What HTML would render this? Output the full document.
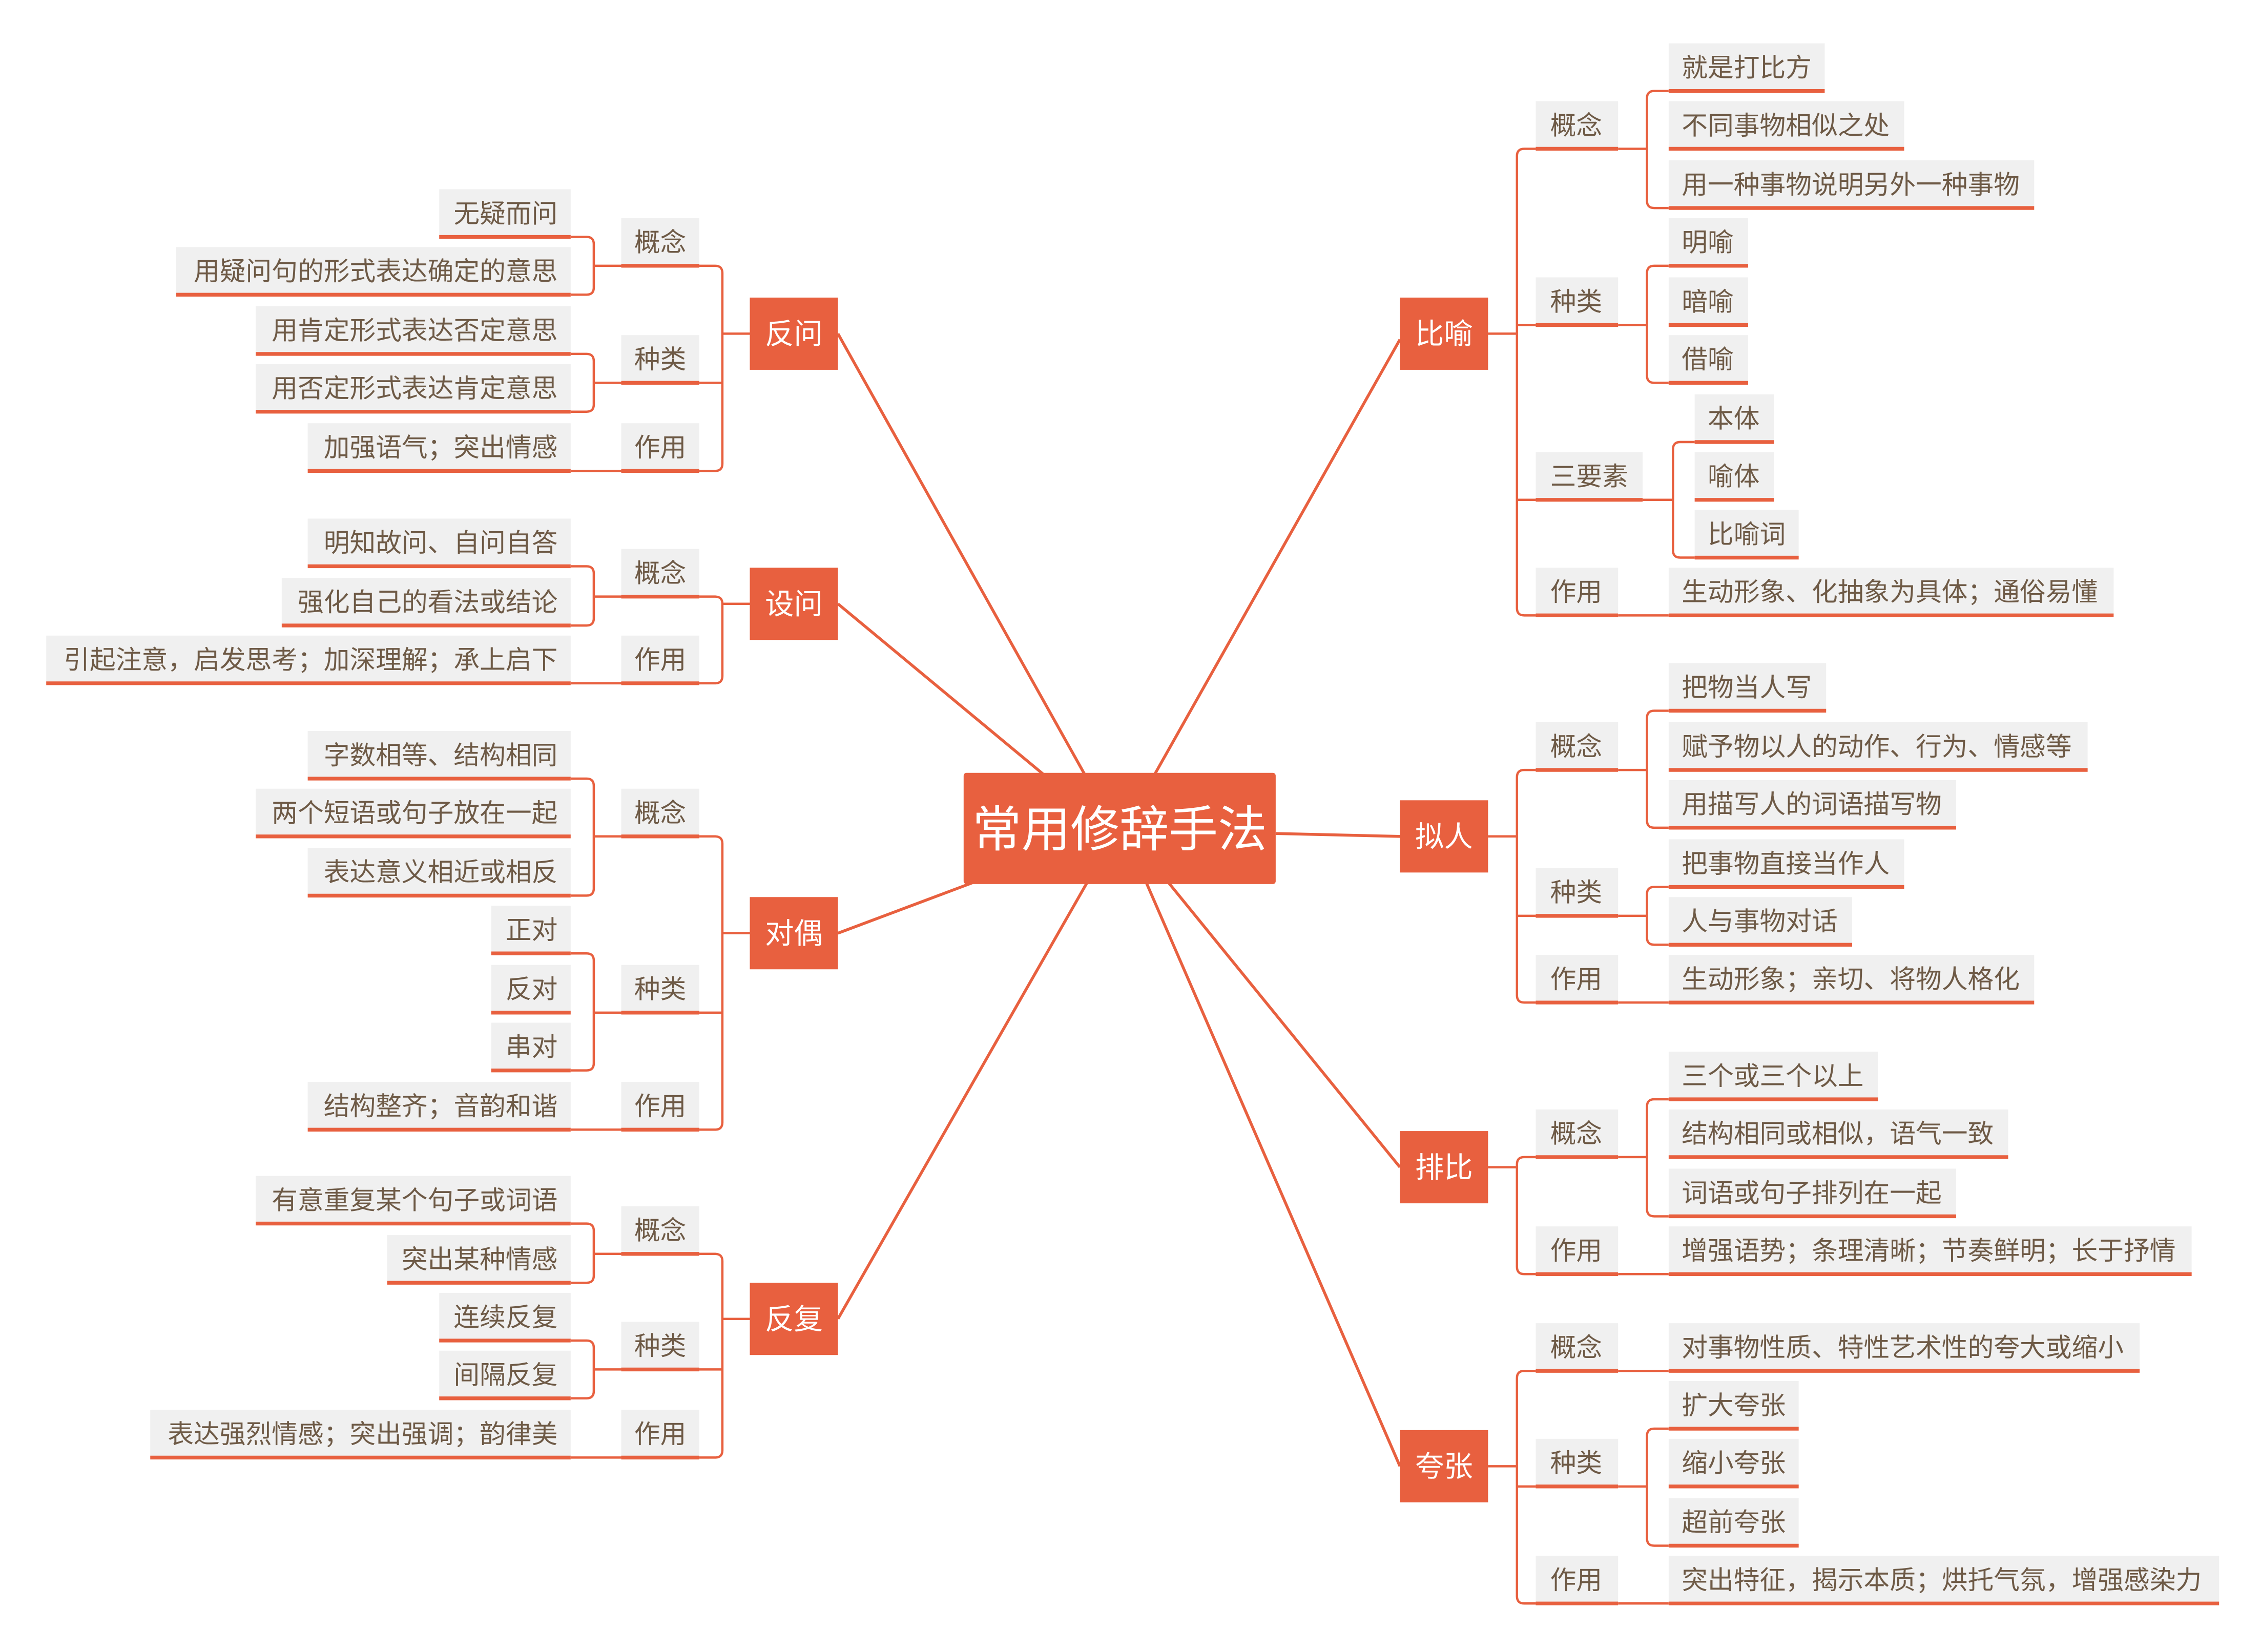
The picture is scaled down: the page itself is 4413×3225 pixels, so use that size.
<!DOCTYPE html>
<html><head><meta charset="utf-8"><style>
html,body{margin:0;padding:0;background:#fff}
svg{display:block}
.b{fill:#f0f0f0}
.t{font-family:"Liberation Sans","Noto Sans CJK SC",sans-serif;font-size:18px;fill:#6e5a46}
.r{text-anchor:end}
.w{font-family:"Liberation Sans","Noto Sans CJK SC",sans-serif;fill:#fff;text-anchor:middle}
.u{stroke:#e8603f;stroke-width:2.6;fill:none}
.c{stroke:#e8603f;stroke-width:1.6;fill:none}
.o{fill:#e8603f}
</style></head><body>
<svg width="4413" height="3225" viewBox="0 0 1565 1143.6" preserveAspectRatio="none" xmlns="http://www.w3.org/2000/svg">
<g class="c" style="stroke-width:2">
<path d="M797 540 L969 235"/>
<path d="M883 577 L969 579"/>
<path d="M808 610 L969 808"/>
<path d="M793 610 L969 1015"/>
<path d="M753 540 L580 231"/>
<path d="M727 540 L580 418"/>
<path d="M676 610 L580 646"/>
<path d="M753 610 L580 913"/>
</g>
<rect class="o" x="667" y="535" width="216" height="77" rx="2"/>
<text class="w" x="775" y="586" font-size="34">常用修辞手法</text>

<rect class="o" x="969" y="206" width="61" height="50"/><text class="w" x="999.5" y="238" font-size="20">比喻</text>
<rect class="o" x="969" y="554" width="61" height="50"/><text class="w" x="999.5" y="586" font-size="20">拟人</text>
<rect class="o" x="969" y="783" width="61" height="50"/><text class="w" x="999.5" y="815" font-size="20">排比</text>
<rect class="o" x="969" y="990" width="61" height="50"/><text class="w" x="999.5" y="1022" font-size="20">夸张</text>
<rect class="o" x="519" y="206" width="61" height="50"/><text class="w" x="549.5" y="238" font-size="20">反问</text>
<rect class="o" x="519" y="393" width="61" height="50"/><text class="w" x="549.5" y="425" font-size="20">设问</text>
<rect class="o" x="519" y="621" width="61" height="50"/><text class="w" x="549.5" y="653" font-size="20">对偶</text>
<rect class="o" x="519" y="888" width="61" height="50"/><text class="w" x="549.5" y="920" font-size="20">反复</text>

<g class="c">
<path d="M1030 231 H1050"/>
<path d="M1063 103 H1055 Q1050 103 1050 108 V421 Q1050 426 1055 426 H1063 M1050 225 H1063 M1050 346 H1063"/>
<path d="M1120 103 H1140 M1155 63 H1145 Q1140 63 1140 68 V139 Q1140 144 1145 144 H1155"/>
<path d="M1120 225 H1140 M1155 184 H1145 Q1140 184 1140 189 V260 Q1140 265 1145 265 H1155"/>
<path d="M1137 346 H1158 M1173 306 H1163 Q1158 306 1158 311 V381 Q1158 386 1163 386 H1173"/>
<path d="M1120 426 H1155"/>
<path d="M1030 579 H1050"/>
<path d="M1063 533 H1055 Q1050 533 1050 538 V689 Q1050 694 1055 694 H1063 M1050 634 H1063"/>
<path d="M1120 533 H1140 M1155 492 H1145 Q1140 492 1140 497 V568 Q1140 573 1145 573 H1155"/>
<path d="M1120 634 H1140 M1155 614 H1145 Q1140 614 1140 619 V649 Q1140 654 1145 654 H1155"/>
<path d="M1120 694 H1155"/>
<path d="M1030 808 H1050"/>
<path d="M1063 801 H1055 Q1050 801 1050 806 V877 Q1050 882 1055 882 H1063"/>
<path d="M1120 801 H1140 M1155 761 H1145 Q1140 761 1140 766 V837 Q1140 842 1145 842 H1155"/>
<path d="M1120 882 H1155"/>
<path d="M1030 1015 H1050"/>
<path d="M1063 949 H1055 Q1050 949 1050 954 V1105 Q1050 1110 1055 1110 H1063 M1050 1029 H1063"/>
<path d="M1120 949 H1155"/>
<path d="M1120 1029 H1140 M1155 989 H1145 Q1140 989 1140 994 V1065 Q1140 1070 1145 1070 H1155"/>
<path d="M1120 1110 H1155"/>

<path d="M519 231 H500"/>
<path d="M484 184 H495 Q500 184 500 189 V321 Q500 326 495 326 H484 M500 265 H484"/>
<path d="M430 184 H411 M395 164 H406 Q411 164 411 169 V199 Q411 204 406 204 H395"/>
<path d="M430 265 H411 M395 245 H406 Q411 245 411 250 V280 Q411 285 406 285 H395"/>
<path d="M430 326 H395"/>
<path d="M519 418 H500"/>
<path d="M484 413 H495 Q500 413 500 418 V468 Q500 473 495 473 H484"/>
<path d="M430 413 H411 M395 392 H406 Q411 392 411 397 V428 Q411 433 406 433 H395"/>
<path d="M430 473 H395"/>
<path d="M519 646 H500"/>
<path d="M484 579 H495 Q500 579 500 584 V777 Q500 782 495 782 H484 M500 701 H484"/>
<path d="M430 579 H411 M395 539 H406 Q411 539 411 544 V615 Q411 620 406 620 H395"/>
<path d="M430 701 H411 M395 660 H406 Q411 660 411 665 V736 Q411 741 406 741 H395"/>
<path d="M430 782 H395"/>
<path d="M519 913 H500"/>
<path d="M484 868 H495 Q500 868 500 873 V1004 Q500 1009 495 1009 H484 M500 948 H484"/>
<path d="M430 868 H411 M395 847 H406 Q411 847 411 852 V883 Q411 888 406 888 H395"/>
<path d="M430 948 H411 M395 928 H406 Q411 928 411 933 V963 Q411 968 406 968 H395"/>
<path d="M430 1009 H395"/>
</g>

<g>
<rect class="b" x="1063" y="70" width="57" height="33"/><text class="t" x="1073" y="93">概念</text>
<rect class="b" x="1063" y="192" width="57" height="33"/><text class="t" x="1073" y="215">种类</text>
<rect class="b" x="1063" y="313" width="74" height="33"/><text class="t" x="1073" y="336">三要素</text>
<rect class="b" x="1063" y="393" width="57" height="33"/><text class="t" x="1073" y="416">作用</text>
<rect class="b" x="1063" y="500" width="57" height="33"/><text class="t" x="1073" y="523">概念</text>
<rect class="b" x="1063" y="601" width="57" height="33"/><text class="t" x="1073" y="624">种类</text>
<rect class="b" x="1063" y="661" width="57" height="33"/><text class="t" x="1073" y="684">作用</text>
<rect class="b" x="1063" y="768" width="57" height="33"/><text class="t" x="1073" y="791">概念</text>
<rect class="b" x="1063" y="849" width="57" height="33"/><text class="t" x="1073" y="872">作用</text>
<rect class="b" x="1063" y="916" width="57" height="33"/><text class="t" x="1073" y="939">概念</text>
<rect class="b" x="1063" y="996" width="57" height="33"/><text class="t" x="1073" y="1019">种类</text>
<rect class="b" x="1063" y="1077" width="57" height="33"/><text class="t" x="1073" y="1100">作用</text>
</g>
<g class="u">
<path d="M1063 103H1120M1063 225H1120M1063 346H1137M1063 426H1120M1063 533H1120M1063 634H1120M1063 694H1120M1063 801H1120M1063 882H1120M1063 949H1120M1063 1029H1120M1063 1110H1120"/>
</g>

<g>
<rect class="b" x="1155" y="30" width="108" height="33"/><text class="t" x="1164" y="53">就是打比方</text>
<rect class="b" x="1155" y="70" width="163" height="33"/><text class="t" x="1164" y="93">不同事物相似之处</text>
<rect class="b" x="1155" y="111" width="253" height="33"/><text class="t" x="1164" y="134">用一种事物说明另外一种事物</text>
<rect class="b" x="1155" y="151" width="55" height="33"/><text class="t" x="1164" y="174">明喻</text>
<rect class="b" x="1155" y="192" width="55" height="33"/><text class="t" x="1164" y="215">暗喻</text>
<rect class="b" x="1155" y="232" width="55" height="33"/><text class="t" x="1164" y="255">借喻</text>
<rect class="b" x="1173" y="273" width="55" height="33"/><text class="t" x="1182" y="296">本体</text>
<rect class="b" x="1173" y="313" width="55" height="33"/><text class="t" x="1182" y="336">喻体</text>
<rect class="b" x="1173" y="353" width="72" height="33"/><text class="t" x="1182" y="376">比喻词</text>
<rect class="b" x="1155" y="393" width="308" height="33"/><text class="t" x="1164" y="416">生动形象、化抽象为具体；通俗易懂</text>
<rect class="b" x="1155" y="459" width="109" height="33"/><text class="t" x="1164" y="482">把物当人写</text>
<rect class="b" x="1155" y="500" width="290" height="33"/><text class="t" x="1164" y="523">赋予物以人的动作、行为、情感等</text>
<rect class="b" x="1155" y="540" width="199" height="33"/><text class="t" x="1164" y="563">用描写人的词语描写物</text>
<rect class="b" x="1155" y="581" width="163" height="33"/><text class="t" x="1164" y="604">把事物直接当作人</text>
<rect class="b" x="1155" y="621" width="127" height="33"/><text class="t" x="1164" y="644">人与事物对话</text>
<rect class="b" x="1155" y="661" width="253" height="33"/><text class="t" x="1164" y="684">生动形象；亲切、将物人格化</text>
<rect class="b" x="1155" y="728" width="145" height="33"/><text class="t" x="1164" y="751">三个或三个以上</text>
<rect class="b" x="1155" y="768" width="235" height="33"/><text class="t" x="1164" y="791">结构相同或相似，语气一致</text>
<rect class="b" x="1155" y="809" width="199" height="33"/><text class="t" x="1164" y="832">词语或句子排列在一起</text>
<rect class="b" x="1155" y="849" width="362" height="33"/><text class="t" x="1164" y="872">增强语势；条理清晰；节奏鲜明；长于抒情</text>
<rect class="b" x="1155" y="916" width="326" height="33"/><text class="t" x="1164" y="939">对事物性质、特性艺术性的夸大或缩小</text>
<rect class="b" x="1155" y="956" width="90" height="33"/><text class="t" x="1164" y="979">扩大夸张</text>
<rect class="b" x="1155" y="996" width="90" height="33"/><text class="t" x="1164" y="1019">缩小夸张</text>
<rect class="b" x="1155" y="1037" width="90" height="33"/><text class="t" x="1164" y="1060">超前夸张</text>
<rect class="b" x="1155" y="1077" width="381" height="33"/><text class="t" x="1164" y="1100">突出特征，揭示本质；烘托气氛，增强感染力</text>
</g>
<g class="u">
<path d="M1155 63H1263M1155 103H1318M1155 144H1408M1155 184H1210M1155 225H1210M1155 265H1210M1173 306H1228M1173 346H1228M1173 386H1245M1155 426H1463M1155 492H1264M1155 533H1445M1155 573H1354M1155 614H1318M1155 654H1282M1155 694H1408M1155 761H1300M1155 801H1390M1155 842H1354M1155 882H1517M1155 949H1481M1155 989H1245M1155 1029H1245M1155 1070H1245M1155 1110H1536"/>
</g>

<g>
<rect class="b" x="430" y="151" width="54" height="33"/><text class="t" x="439" y="174">概念</text>
<rect class="b" x="430" y="232" width="54" height="33"/><text class="t" x="439" y="255">种类</text>
<rect class="b" x="430" y="293" width="54" height="33"/><text class="t" x="439" y="316">作用</text>
<rect class="b" x="430" y="380" width="54" height="33"/><text class="t" x="439" y="403">概念</text>
<rect class="b" x="430" y="440" width="54" height="33"/><text class="t" x="439" y="463">作用</text>
<rect class="b" x="430" y="546" width="54" height="33"/><text class="t" x="439" y="569">概念</text>
<rect class="b" x="430" y="668" width="54" height="33"/><text class="t" x="439" y="691">种类</text>
<rect class="b" x="430" y="749" width="54" height="33"/><text class="t" x="439" y="772">作用</text>
<rect class="b" x="430" y="835" width="54" height="33"/><text class="t" x="439" y="858">概念</text>
<rect class="b" x="430" y="915" width="54" height="33"/><text class="t" x="439" y="938">种类</text>
<rect class="b" x="430" y="976" width="54" height="33"/><text class="t" x="439" y="999">作用</text>
</g>
<g class="u">
<path d="M430 184H484M430 265H484M430 326H484M430 413H484M430 473H484M430 579H484M430 701H484M430 782H484M430 868H484M430 948H484M430 1009H484"/>
</g>

<g>
<rect class="b" x="304" y="131" width="91" height="33"/><text class="t r" x="386" y="154">无疑而问</text>
<rect class="b" x="122" y="171" width="273" height="33"/><text class="t r" x="386" y="194">用疑问句的形式表达确定的意思</text>
<rect class="b" x="177" y="212" width="218" height="33"/><text class="t r" x="386" y="235">用肯定形式表达否定意思</text>
<rect class="b" x="177" y="252" width="218" height="33"/><text class="t r" x="386" y="275">用否定形式表达肯定意思</text>
<rect class="b" x="213" y="293" width="182" height="33"/><text class="t r" x="386" y="316">加强语气；突出情感</text>
<rect class="b" x="213" y="359" width="182" height="33"/><text class="t r" x="386" y="382">明知故问、自问自答</text>
<rect class="b" x="195" y="400" width="200" height="33"/><text class="t r" x="386" y="423">强化自己的看法或结论</text>
<rect class="b" x="32" y="440" width="363" height="33"/><text class="t r" x="386" y="463">引起注意，启发思考；加深理解；承上启下</text>
<rect class="b" x="213" y="506" width="182" height="33"/><text class="t r" x="386" y="529">字数相等、结构相同</text>
<rect class="b" x="177" y="546" width="218" height="33"/><text class="t r" x="386" y="569">两个短语或句子放在一起</text>
<rect class="b" x="213" y="587" width="182" height="33"/><text class="t r" x="386" y="610">表达意义相近或相反</text>
<rect class="b" x="340" y="627" width="55" height="33"/><text class="t r" x="386" y="650">正对</text>
<rect class="b" x="340" y="668" width="55" height="33"/><text class="t r" x="386" y="691">反对</text>
<rect class="b" x="340" y="708" width="55" height="33"/><text class="t r" x="386" y="731">串对</text>
<rect class="b" x="213" y="749" width="182" height="33"/><text class="t r" x="386" y="772">结构整齐；音韵和谐</text>
<rect class="b" x="177" y="814" width="218" height="33"/><text class="t r" x="386" y="837">有意重复某个句子或词语</text>
<rect class="b" x="268" y="855" width="127" height="33"/><text class="t r" x="386" y="878">突出某种情感</text>
<rect class="b" x="304" y="895" width="91" height="33"/><text class="t r" x="386" y="918">连续反复</text>
<rect class="b" x="304" y="935" width="91" height="33"/><text class="t r" x="386" y="958">间隔反复</text>
<rect class="b" x="104" y="976" width="291" height="33"/><text class="t r" x="386" y="999">表达强烈情感；突出强调；韵律美</text>
</g>
<g class="u">
<path d="M304 164H395M122 204H395M177 245H395M177 285H395M213 326H395M213 392H395M195 433H395M32 473H395M213 539H395M177 579H395M213 620H395M340 660H395M340 701H395M340 741H395M213 782H395M177 847H395M268 888H395M304 928H395M304 968H395M104 1009H395"/>
</g>
</svg>
</body></html>
